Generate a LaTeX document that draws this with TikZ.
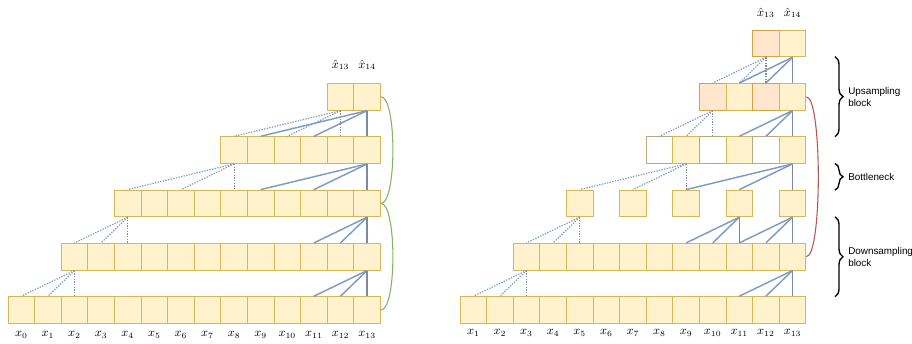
\documentclass[tikz,border=0pt]{standalone}
\usepackage{fontspec}
\newfontfamily\labelfont{Liberation Sans}
\usetikzlibrary{decorations.pathreplacing}
\definecolor{cellfill}{HTML}{FFF2CC}
\definecolor{cellline}{HTML}{D6B656}
\definecolor{pinkfill}{HTML}{FFE6CC}
\definecolor{pinkline}{HTML}{D7A040}
\definecolor{blankline}{HTML}{BBAA80}
\definecolor{linkblue}{HTML}{7E9BC8}
\definecolor{linkdark}{HTML}{7A8BA6}
\definecolor{skipgreen}{HTML}{82B366}
\definecolor{skipred}{HTML}{B85450}

\begin{document}
\begin{tikzpicture}[x=0.75pt, y=-0.75pt,
    cell/.style={rectangle, minimum size=19.95pt, inner sep=0, draw=cellline, fill=cellfill, line width=0.75pt},
    pinkcell/.style={cell, draw=pinkline, fill=pinkfill},
    blankcell/.style={cell, draw=blankline, fill=white},
    solidlink/.style={linkblue, line width=1.1pt},
    dotlink/.style={linkblue, line width=0.9pt, dash pattern=on 1pt off 1pt},
    vlink/.style={linkdark, line width=1.1pt},
    vdot/.style={linkdark, line width=0.9pt, dash pattern=on 1pt off 1pt},
    skip/.style={line width=0.8pt},
    lbl/.style={font=\small, inner sep=0},
    blocklabel/.style={font=\labelfont\fontsize{7.4}{9}\selectfont, align=left, anchor=west, inner sep=0},
    bracket/.style={decorate, decoration={brace, amplitude=6pt}, line width=1pt},
]
    \useasboundingbox (0,0) rectangle (912,343);

    % left: dilated causal stack
    \foreach \r/\first in {0/0, 1/2, 2/4, 3/8, 4/12}
        \foreach \i in {\first,...,13}
            \node[cell] (L\r-\i) at ({21.3+26.6*\i},{310-53.3*\r}) {};

    \foreach \i in {0,...,13}
        \node[lbl] (Lx\i) at ({21.3+26.6*\i},335) {$x_{\i}$};
    \node[lbl] (Lh13) at (L4-12 |- 0,65) {$\hat{x}_{13}$};
    \node[lbl] (Lh14) at (L4-13 |- 0,65) {$\hat{x}_{14}$};

    \foreach \r/\a/\b in {0/11/12, 1/11/12, 2/9/11, 3/9/11} {
        \pgfmathtruncatemacro\up{\r+1}
        \draw[solidlink] (L\up-13.south) -- (L\r-\a.north);
        \draw[solidlink] (L\up-13.south) -- (L\r-\b.north);
        \draw[vlink] (L\up-13.south) -- (L\r-13.north);
    }
    \foreach \r/\t/\a/\b in {0/2/0/1, 1/4/2/3, 2/8/4/6, 3/12/8/10} {
        \pgfmathtruncatemacro\up{\r+1}
        \draw[dotlink] (L\up-\t.south) -- (L\r-\a.north);
        \draw[dotlink] (L\up-\t.south) -- (L\r-\b.north);
        \draw[vdot] (L\up-\t.south) -- (L\r-\t.north);
    }

    \draw[skip, skipgreen] (L4-13.east) .. controls +(16,0) and +(16,0) .. (L2-13.east);
    \draw[skip, skipgreen] (L2-13.east) .. controls +(16,0) and +(16,0) .. (L0-13.east);

    % right: down / bottleneck / up
    \foreach \i in {1,...,13}
        \node[cell] (R0-\i) at ({446.7+26.6*\i},310) {};
    \foreach \i in {3,...,13}
        \node[cell] (R1-\i) at ({446.7+26.6*\i},256.7) {};
    \foreach \i in {5,7,9,11,13}
        \node[cell] (R2-\i) at ({446.7+26.6*\i},203.4) {};
    \foreach \i/\s in {8/blankcell, 9/cell, 10/blankcell, 11/cell, 12/blankcell, 13/cell}
        \node[\s] (R3-\i) at ({446.7+26.6*\i},150.1) {};
    \foreach \i/\s in {10/pinkcell, 11/cell, 12/pinkcell, 13/cell}
        \node[\s] (R4-\i) at ({446.7+26.6*\i},96.8) {};
    \foreach \i/\s in {12/pinkcell, 13/cell}
        \node[\s] (R5-\i) at ({446.7+26.6*\i},43.5) {};

    \foreach \i in {1,...,13}
        \node[lbl] (Rx\i) at ({446.7+26.6*\i},333) {$x_{\i}$};
    \node[lbl] (Rh13) at (R5-12 |- 0,13) {$\hat{x}_{13}$};
    \node[lbl] (Rh14) at (R5-13 |- 0,13) {$\hat{x}_{14}$};

    \foreach \up/\s/\r/\a/\b in {1/13/0/11/12, 2/13/1/11/12, 2/11/1/9/10, 3/13/2/9/11, 4/13/3/11/12, 5/13/4/11/12} {
        \draw[solidlink] (R\up-\s.south) -- (R\r-\a.north);
        \draw[solidlink] (R\up-\s.south) -- (R\r-\b.north);
        \draw[vlink] (R\up-\s.south) -- (R\r-\s.north);
    }
    \foreach \up/\s/\r/\a/\b in {1/3/0/1/2, 2/5/1/3/4, 3/9/2/5/7, 4/10/3/8/9, 5/12/4/10/11} {
        \draw[dotlink] (R\up-\s.south) -- (R\r-\a.north);
        \draw[dotlink] (R\up-\s.south) -- (R\r-\b.north);
        \draw[vdot] (R\up-\s.south) -- (R\r-\s.north);
    }

    \draw[skip, skipred] (R4-13.east) .. controls +(16,0) and +(16,0) .. (R1-13.east);

    % block braces
    \coordinate (upT) at (835,56.7);
    \coordinate (upB) at (835,136.7);
    \coordinate (bnT) at (835,163.4);
    \coordinate (bnB) at (835,190.1);
    \coordinate (dnT) at (835,216.8);
    \coordinate (dnB) at (835,296.7);
    \draw[bracket] (upT) -- (upB);
    \draw[bracket] (bnT) -- (bnB);
    \draw[bracket] (dnT) -- (dnB);
    \node[blocklabel] (uplbl) at (848,97) {Upsampling\\block};
    \node[blocklabel] (bnlbl) at (848,177) {Bottleneck};
    \node[blocklabel] (dnlbl) at (848,257) {Downsampling\\block};
\end{tikzpicture}
\end{document}
